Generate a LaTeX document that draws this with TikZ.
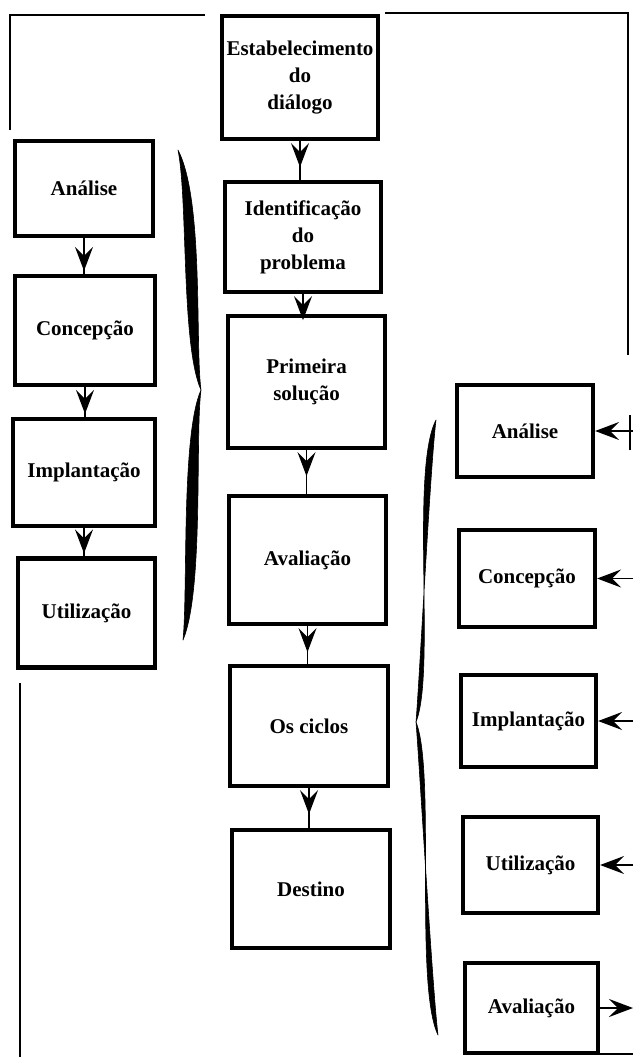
\documentclass[tikz,border=0pt]{standalone}
\usepackage{fontspec}
\setmainfont{Liberation Serif}
\usetikzlibrary{arrows.meta}
\begin{document}
\begin{tikzpicture}[x=1pt,y=-1pt,
  box/.style={draw, line width=4.2pt, align=center, inner sep=0pt,
    font=\bfseries\fontsize{21}{27}\selectfont},
  frameline/.style={line width=1.6pt},
  conn/.style={line width=1.8pt},
  tipped/.style={line width=1.8pt, -{Stealth[length=24pt,width=18pt,inset=9pt]}},
  bracefill/.style={fill=black, draw=black, line width=0.6pt, line join=round}]
\useasboundingbox (0,0) rectangle (633,1057);

% frame fragments
\draw[frameline] (205,15) -- (10,15) -- (10,130);
\draw[frameline] (385,13) -- (628,13) -- (628,355);
\draw[frameline] (630,415) -- (630,450);
\draw[frameline] (20,683) -- (20,1057);
\draw[frameline] (598,1054) -- (633,1054);

% left column
\node[box, minimum width=138pt, minimum height=95pt]  (la) at (84,188.5) {Análise};
\node[box, minimum width=140pt, minimum height=109pt] (lc) at (85,330.5) {Concepção};
\node[box, minimum width=142pt, minimum height=107pt] (li) at (84,472.5) {Implantação};
\node[box, minimum width=137pt, minimum height=109pt] (lu) at (86.5,613) {Utilização};

% central column
\node[box, minimum width=156pt, minimum height=123pt] (ce) at (300,77.5) {Estabelecimento\\do\\diálogo};
\node[box, minimum width=156pt, minimum height=110pt] (ci) at (303,237) {Identificação\\do\\problema};
\node[box, minimum width=157pt, minimum height=132pt] (cp) at (306.5,382) {Primeira\\solução};
\node[box, minimum width=157pt, minimum height=128pt] (cv) at (307.5,560) {Avaliação};
\node[box, minimum width=158pt, minimum height=120pt] (cc) at (309,726) {Os ciclos};
\node[box, minimum width=158pt, minimum height=118pt] (cd) at (311,889) {Destino};

% right column
\node[box, minimum width=136pt, minimum height=92pt] (ra) at (525,431) {Análise};
\node[box, minimum width=136pt, minimum height=97pt] (rc) at (527,578.5) {Concepção};
\node[box, minimum width=135pt, minimum height=92pt] (ri) at (528.5,721) {Implantação};
\node[box, minimum width=135pt, minimum height=96pt] (ru) at (530.5,865) {Utilização};
\node[box, minimum width=133pt, minimum height=90pt] (rv) at (531.5,1008) {Avaliação};

% left column connectors (tip close to the lower box)
\foreach \a/\b in {la/lc, lc/li, li/lu}{
  \draw[conn] (\a.south) -- (\a.south |- \b.north);
  \draw[tipped, shorten >=3pt] (\a.south) -- (\a.south |- \b.north);
}
% central column connectors (head just below the upper box)
\foreach \a/\b in {ce/ci, ci/cp, cp/cv, cv/cc, cc/cd}{
  \draw[conn] (\a.south) -- (\a.south |- \b.north);
  \draw[tipped] (\a.south) -- ([yshift=-26pt]\a.south);
}

% right side connectors
\coordinate (ea) at (633,431);
\coordinate (ec) at (633,578.5);
\coordinate (ei) at (633,721);
\coordinate (eu) at (633,865);
\coordinate (ev) at (633,1008);
\draw[tipped] (ea) -- (ra.east);
\draw[tipped] (ec) -- (rc.east);
\draw[tipped] (ei) -- (ri.east);
\draw[tipped] (eu) -- (ru.east);
\draw[tipped] (rv.east) -- (ev);

% left brace
\path[bracefill] (178,150) .. controls (204,200) and (195,345) .. (201,390)
  .. controls (181,345) and (188,200) .. (178,150) -- cycle;
\path[bracefill] (201,390) .. controls (195,435) and (204,590) .. (183,640)
  .. controls (188,590) and (181,435) .. (201,390) -- cycle;

% right brace
\path[bracefill] (436,420) .. controls (410,470) and (436,672) .. (416,722)
  .. controls (420,672) and (430,470) .. (436,420) -- cycle;
\path[bracefill] (416,722) .. controls (436,772) and (414,985) .. (438,1035)
  .. controls (432,985) and (420,772) .. (416,722) -- cycle;
\end{tikzpicture}
\end{document}
